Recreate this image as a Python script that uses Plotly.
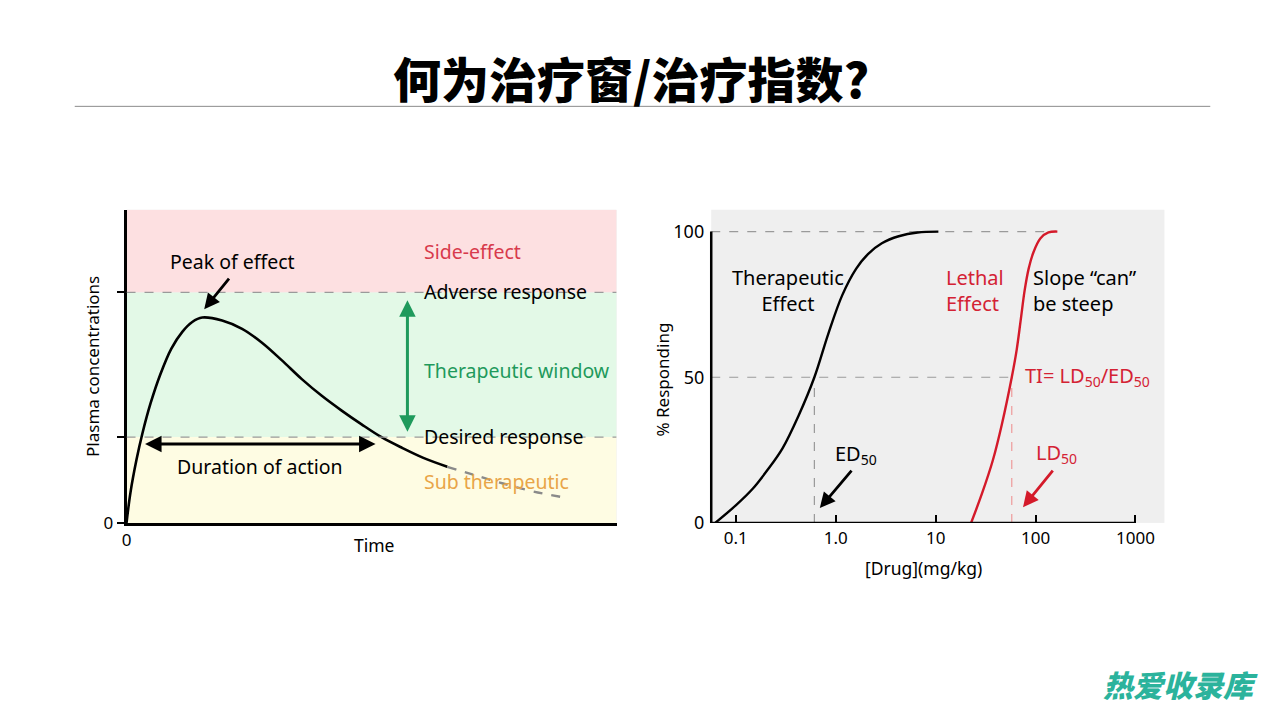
import plotly.graph_objects as go

W, H = 1280, 720

# ---------------- Left chart data (time 0-100, concentration 0-100) ----------------
pk_time = [0, 0.81, 2.03, 3.25, 4.88, 6.91, 9.15, 11.38, 13.41, 15.45, 19.51, 23.58, 27.64, 31.71,
           35.77, 39.84, 43.90, 47.97, 52.03, 56.30, 60.57, 65.45]
pk_conc = [0, 9.75, 20.13, 28.62, 38.05, 47.48, 55.66, 61.01, 64.15, 65.57, 64.62, 61.95, 57.55, 51.89,
           45.91, 40.57, 35.85, 31.45, 27.36, 23.90, 20.75, 17.92]
tail_time = [65.45, 70.73, 76.83, 82.93, 90.24]
tail_conc = [17.92, 15.41, 12.58, 10.06, 7.86]
adverse_level = 73.6
desired_level = 27.4

# ---------------- Right chart data ----------------
ther_dose = [0.0622, 0.1006, 0.1483, 0.209, 0.2944, 0.4245, 0.6115, 0.8425, 1.16, 1.598, 2.102,
             2.894, 4.268, 6.59, 10.65]
ther_resp = [0, 6.1, 11.8, 18.3, 25.7, 36.8, 50, 64.9, 78.1, 87.2, 92.3, 96.0, 98.4, 99.7, 100]
leth_dose = [22.64, 29.11, 37.43, 45.98, 57.79, 64.78, 71.01, 77.77, 85.21, 95.52, 112.1, 134.6, 165.3]
leth_resp = [0, 10.1, 21.6, 33.8, 50, 59.5, 69.6, 79.8, 87.2, 93.0, 97.7, 99.7, 100]
ED50 = 0.6115
LD50 = 57.79
dose_ticks = [0.1, 1, 10, 100, 1000]
dose_ticktext = ["0.1", "1.0", "10", "100", "1000"]
resp_ticks = [0, 50, 100]

XLOG_MIN, XLOG_MAX = -1.246, 3.29
x_left_val = 10 ** XLOG_MIN

FONT = "Noto Sans"
RED = "#d42234"
GREEN = "#1f9a5c"
ORANGE = "#e9a548"


def P(x, y):
    return x / W, 1 - y / H


fig = go.Figure()

fig.add_trace(go.Scatter(x=pk_time, y=pk_conc, mode="lines", line=dict(color="black", width=2.6, shape="spline"),
                         xaxis="x", yaxis="y", hoverinfo="skip"))
fig.add_trace(go.Scatter(x=tail_time, y=tail_conc, mode="lines",
                         line=dict(color="#8a8a8a", width=2.4, dash="dash", shape="spline"),
                         xaxis="x", yaxis="y", hoverinfo="skip"))

fig.add_trace(go.Scatter(x=[x_left_val, 140], y=[100, 100], mode="lines",
                         line=dict(color="#9a9a9a", width=1.2, dash="dash"), xaxis="x2", yaxis="y2"))
fig.add_trace(go.Scatter(x=[x_left_val, LD50], y=[50, 50], mode="lines",
                         line=dict(color="#9a9a9a", width=1.2, dash="dash"), xaxis="x2", yaxis="y2"))
fig.add_trace(go.Scatter(x=[ED50, ED50], y=[0, 50], mode="lines",
                         line=dict(color="#9a9a9a", width=1.2, dash="dash"), xaxis="x2", yaxis="y2"))
fig.add_trace(go.Scatter(x=[LD50, LD50], y=[0, 50], mode="lines",
                         line=dict(color="#ee9a9a", width=1.2, dash="dash"), xaxis="x2", yaxis="y2"))
fig.add_trace(go.Scatter(x=ther_dose, y=ther_resp, mode="lines", line=dict(color="black", width=2.4, shape="spline"),
                         xaxis="x2", yaxis="y2"))
fig.add_trace(go.Scatter(x=leth_dose, y=leth_resp, mode="lines", line=dict(color="#d41a2a", width=2.4, shape="spline"),
                         xaxis="x2", yaxis="y2"))

shapes = []
shapes.append(dict(type="rect", xref="x", yref="y", x0=0, x1=100, y0=adverse_level, y1=100,
                   fillcolor="#fde0e1", line_width=0, layer="below"))
shapes.append(dict(type="rect", xref="x", yref="y", x0=0, x1=100, y0=desired_level, y1=adverse_level,
                   fillcolor="#e3f9e7", line_width=0, layer="below"))
shapes.append(dict(type="rect", xref="x", yref="y", x0=0, x1=100, y0=0, y1=desired_level,
                   fillcolor="#fefce3", line_width=0, layer="below"))
for lv in (adverse_level, desired_level):
    shapes.append(dict(type="line", xref="x", yref="y", x0=0, x1=100, y0=lv, y1=lv,
                       line=dict(color="#9a9a9a", width=1.3, dash="dash")))
frac1000 = (3 - XLOG_MIN) / (XLOG_MAX - XLOG_MIN)
shapes.append(dict(type="line", xref="x2 domain", yref="y2", x0=0, x1=frac1000, y0=0, y1=0,
                   line=dict(color="black", width=2.5)))
shapes.append(dict(type="line", xref="x2 domain", yref="y2", x0=0, x1=0, y0=0, y1=100,
                   line=dict(color="black", width=2.5)))
shapes.append(dict(type="line", xref="paper", yref="paper", x0=70 / W, x1=1210 / W, y0=1 - 108 / H, y1=1 - 108 / H,
                   line=dict(color="#8c8c8c", width=1)))

ann = []


def text(x, y, s, color="black", size=19.5, xanchor="center", family=FONT, **kw):
    px, py = P(x, y)
    ann.append(dict(x=px, y=py, xref="paper", yref="paper", text=s, showarrow=False, xanchor=xanchor,
                    yanchor="middle", font=dict(family=family, size=size, color=color), **kw))


def arrow(hx, hy, tx, ty, color="black", both=False, width=2.8):
    px, py = P(hx, hy)
    ann.append(dict(x=px, y=py, xref="paper", yref="paper", text="", showarrow=True,
                    ax=tx - hx, ay=ty - hy, axref="pixel", ayref="pixel",
                    arrowhead=2, arrowsize=1.1, arrowwidth=width, arrowcolor=color,
                    startarrowhead=2, startarrowsize=1.1,
                    arrowside="end+start" if both else "end"))


px, py = P(628, 78)
ann.append(dict(x=px, y=py, xref="paper", yref="paper", text="何为治疗窗/治疗指数?", showarrow=False,
                xanchor="center", yanchor="middle",
                font=dict(family="Noto Sans CJK SC", size=48, color="black", weight=900)))
px, py = P(1180, 695)
ann.append(dict(x=px, y=py, xref="paper", yref="paper", text="热爱收录库", showarrow=False,
                xanchor="center", yanchor="middle",
                font=dict(family="Noto Sans CJK SC", size=30, color="#2bb39c", weight=900, style="italic")))

text(419, 255, "Side-effect", color="#d83a4c", xanchor="left")
text(419, 296, "Adverse response", xanchor="left")
text(419, 376, "Therapeutic window", color=GREEN, xanchor="left")
text(419, 443, "Desired response", xanchor="left")
text(419, 489, "Sub therapeutic", color=ORANGE, xanchor="left")
text(228, 266, "Peak of effect")
text(256, 474, "Duration of action")
text(370, 553, "Time", size=17.5)
px, py = P(88, 372)
ann.append(dict(x=px, y=py, xref="paper", yref="paper", text="Plasma concentrations", showarrow=False,
                textangle=-90, xanchor="center", yanchor="middle", font=dict(family=FONT, size=17, color="black")))
arrow(200, 314, 226, 282)
arrow(372, 451, 140, 451, both=True, width=3)
arrow(404, 305, 404, 438, color=GREEN, both=True, width=3)

RS = 20
text(786, 295, "Therapeutic<br>Effect", size=RS, align="center")
text(943, 295, "Lethal<br>Effect", color=RED, xanchor="left", size=RS, align="left")
text(1030, 295, "Slope \u201ccan\u201d<br>be steep", xanchor="left", size=RS, align="left")
text(1022, 382, "TI= LD<sub>50</sub>/ED<sub>50</sub>", color=RED, xanchor="left", size=RS)
text(831, 462, "ED<sub>50</sub>", xanchor="left", size=RS)
text(1033, 461, "LD<sub>50</sub>", color=RED, xanchor="left", size=RS)
text(922, 577, "[Drug](mg/kg)", size=17.5)
px, py = P(660, 385)
ann.append(dict(x=px, y=py, xref="paper", yref="paper", text="% Responding", showarrow=False,
                textangle=-90, xanchor="center", yanchor="middle", font=dict(family=FONT, size=17, color="black")))
arrow(818, 516, 851, 477)
arrow(1022, 515, 1053, 477, color="#d41a2a")

dom_y = [(H - 531) / H, (H - 213) / H]
fig.update_layout(
    width=W, height=H, margin=dict(l=0, r=0, t=0, b=0),
    paper_bgcolor="white", plot_bgcolor="#efefef", showlegend=False,
    shapes=shapes, annotations=ann,
    font=dict(family=FONT, size=17, color="black"),
    xaxis=dict(domain=[122 / W, 614 / W], range=[0, 100], showline=True, linecolor="black", linewidth=2.6,
               tickvals=[0], ticktext=["0"], ticks="", showgrid=False, zeroline=False, anchor="y",
               tickfont=dict(family=FONT, size=17), fixedrange=True),
    yaxis=dict(domain=dom_y, range=[0, 100], showline=True, linecolor="black", linewidth=2.6,
               tickvals=[0, desired_level, adverse_level], ticktext=["0", "", ""], ticks="outside",
               ticklen=7, tickwidth=1.5, tickcolor="black", showgrid=False, zeroline=False, anchor="x",
               tickfont=dict(family=FONT, size=17)),
    xaxis2=dict(domain=[709 / W, 1164 / W], type="log", range=[XLOG_MIN, XLOG_MAX], showline=False,
                tickvals=dose_ticks, ticktext=dose_ticktext, ticks="inside", ticklen=8, tickwidth=2,
                tickcolor="black", showgrid=False, zeroline=False, anchor="y2", ticklabelstandoff=3,
                tickfont=dict(family=FONT, size=17)),
    yaxis2=dict(domain=dom_y, range=[0, 107.5], showline=False, tickvals=resp_ticks, ticks="",
                showgrid=False, zeroline=False, anchor="x2", ticklabelstandoff=6,
                tickfont=dict(family=FONT, size=18)),
)

fig.write_html("out.html")
